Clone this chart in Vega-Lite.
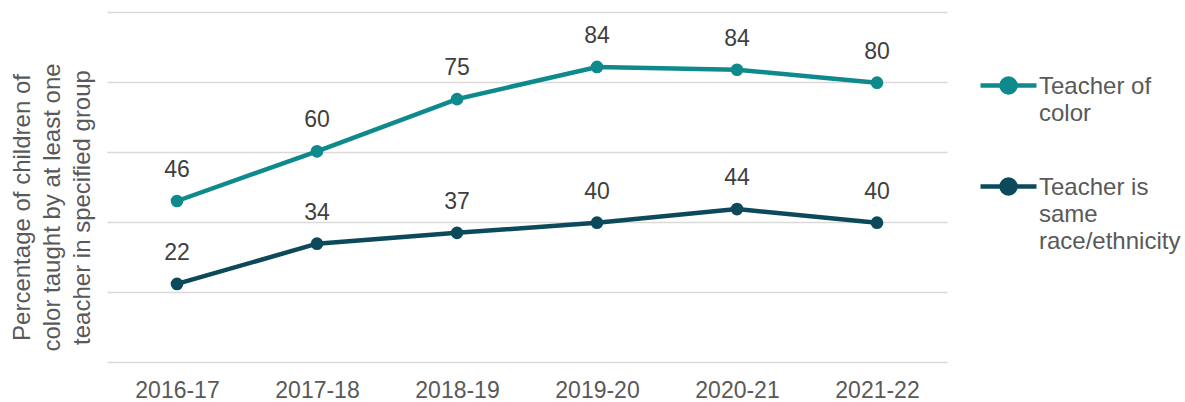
{
  "$schema": "https://vega.github.io/schema/vega-lite/v6.json",
  "width": 840,
  "height": 350,
  "autosize": "none",
  "padding": {"left": 107, "top": 12, "right": 238, "bottom": 40},
  "background": "white",
  "config": {"view": {"stroke": null}, "font": "Liberation Sans"},
  "data": {
    "values": [
      {"year": "2016-17", "series": "Teacher of color", "value": 46.0, "label": "46"},
      {"year": "2017-18", "series": "Teacher of color", "value": 60.2, "label": "60"},
      {"year": "2018-19", "series": "Teacher of color", "value": 75.1, "label": "75"},
      {"year": "2019-20", "series": "Teacher of color", "value": 84.3, "label": "84"},
      {"year": "2020-21", "series": "Teacher of color", "value": 83.5, "label": "84"},
      {"year": "2021-22", "series": "Teacher of color", "value": 79.8, "label": "80"},
      {"year": "2016-17", "series": "Teacher is same race/ethnicity", "value": 22.3, "label": "22"},
      {"year": "2017-18", "series": "Teacher is same race/ethnicity", "value": 33.8, "label": "34"},
      {"year": "2018-19", "series": "Teacher is same race/ethnicity", "value": 36.9, "label": "37"},
      {"year": "2019-20", "series": "Teacher is same race/ethnicity", "value": 39.8, "label": "40"},
      {"year": "2020-21", "series": "Teacher is same race/ethnicity", "value": 43.7, "label": "44"},
      {"year": "2021-22", "series": "Teacher is same race/ethnicity", "value": 39.8, "label": "40"}
    ]
  },
  "encoding": {
    "x": {
      "field": "year",
      "type": "ordinal",
      "sort": null,
      "scale": {"padding": 0.5},
      "axis": {
        "title": null,
        "labelAngle": 0,
        "labelFontSize": 23,
        "labelColor": "#595959",
        "labelPadding": 17,
        "ticks": false,
        "domain": false,
        "grid": false
      }
    },
    "y": {
      "field": "value",
      "type": "quantitative",
      "scale": {"domain": [0, 100], "nice": false},
      "axis": {
        "values": [0, 20, 40, 60, 80, 100],
        "labels": false,
        "ticks": false,
        "domain": false,
        "grid": true,
        "gridColor": "#d9d9d9",
        "gridWidth": 1.5,
        "title": ["Percentage of children of", "color taught by at least one", "teacher in specified group"],
        "titleFontSize": 24,
        "titleFontWeight": "normal",
        "titleColor": "#595959",
        "titleLineHeight": 30,
        "titleAngle": -90,
        "titleBaseline": "middle",
        "titleAlign": "center",
        "titleX": -85,
        "titleY": 195
      }
    }
  },
  "layer": [
    {
      "mark": {"type": "line", "strokeWidth": 4.5, "point": {"size": 160, "filled": true, "opacity": 1}},
      "encoding": {
        "color": {
          "field": "series",
          "type": "nominal",
          "scale": {
            "domain": ["Teacher of color", "Teacher is same race/ethnicity"],
            "range": ["#0e8a8c", "#0c4a5b"]
          },
          "legend": {
            "orient": "none",
            "legendX": 871,
            "legendY": 43,
            "title": null,
            "padding": 0,
            "symbolType": "M-1,0H1M-0.25,0A0.25,0.25 0 1,1 0.25,0A0.25,0.25 0 1,1 -0.25,0Z",
            "symbolSize": 3136,
            "symbolStrokeWidth": 4.5,
            "labelFontSize": 24,
            "labelColor": "#595959",
            "labelOffset": 0,
            "labelLimit": 300,
            "labelBaseline": "alphabetic",
            "rowPadding": 30,
            "labelExpr": "datum.label == 'Teacher of color' ? ['Teacher of', 'color'] : ['Teacher is', 'same', 'race/ethnicity']",
            "encode": {
              "symbols": {"update": {"fill": {"scale": "color", "field": "value"}, "fillOpacity": {"value": 1}}},
              "labels": {"update": {"dy": {"value": 8}, "lineHeight": {"value": 27}}}
            }
          }
        }
      }
    },
    {
      "mark": {"type": "text", "fontSize": 23, "color": "#404040", "dy": -31, "baseline": "middle"},
      "encoding": {"text": {"field": "label"}}
    }
  ]
}
